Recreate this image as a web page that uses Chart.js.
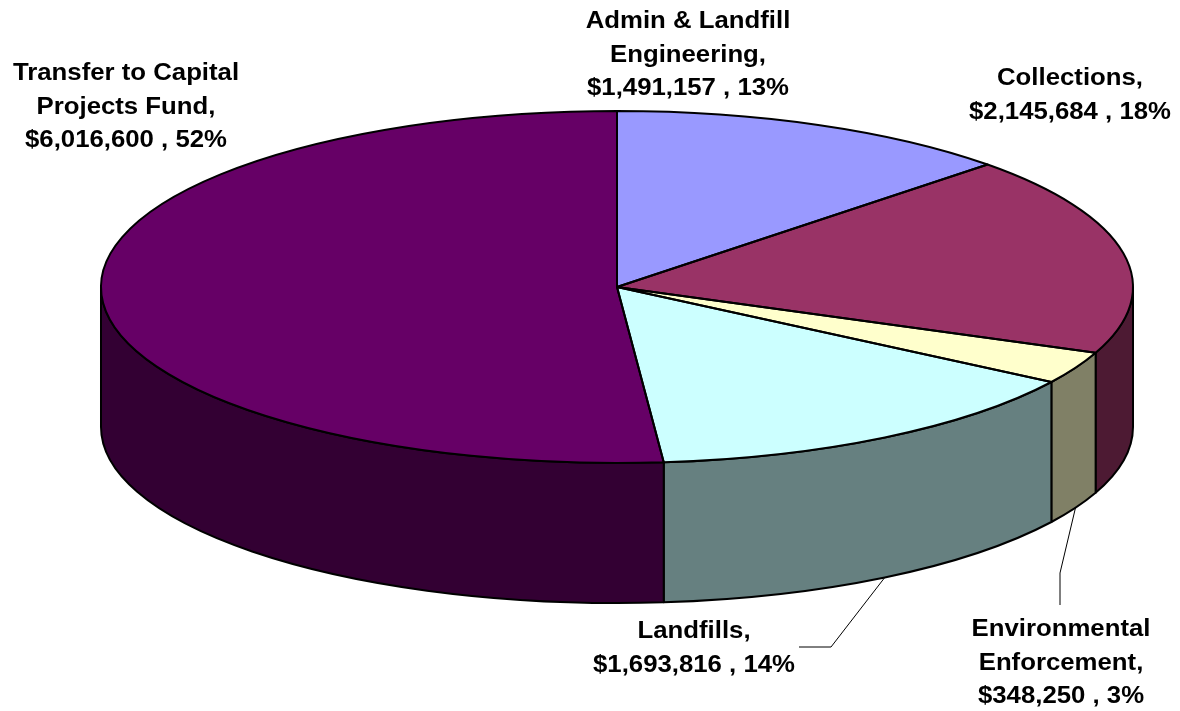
<!DOCTYPE html>
<html>
<head>
<meta charset="utf-8">
<title>Solid Waste Fund Expenditures</title>
<script src="https://cdn.jsdelivr.net/npm/chart.js"></script>
<style>
  body { margin: 0; background: #fff; }
  #wrap { width: 1180px; height: 711px; position: relative; }
</style>
</head>
<body>
<div id="wrap"><canvas id="pieCanvas"></canvas></div>
<script>
// data, clockwise from 12 o'clock
const categories = [
  'Admin & Landfill\nEngineering',
  'Collections',
  'Environmental\nEnforcement',
  'Landfills',
  'Transfer to Capital\nProjects Fund'
];
const amounts = [1491157, 2145684, 348250, 1693816, 6016600];
const percents = [13, 18, 3, 14, 52];

const topColors = ['#9999FF', '#993366', '#FFFFCC', '#CCFFFF', '#660066'];
const sideColors = ['#4D4D80', '#4D1A33', '#808066', '#668080', '#330033'];

// 3d look
const RX = 516, RY = 176, DEPTH = 140;
const FONT = 'bold 23px "Liberation Sans", Arial, sans-serif';
const STRETCH = 1.12, LINE_H = 33.5;

// label anchors (center x, first baseline) and leader line bends
const labelPos = [
  { x: 688, y: 28 },
  { x: 1070, y: 85 },
  { x: 1061, y: 636, leader: [[1060, 573], [1060, 605]] },
  { x: 694, y: 638, leader: [[831, 647], [799, 647]] },
  { x: 126, y: 80 }
];

function labelLines(i) {
  const lines = categories[i].split('\n');
  lines[lines.length - 1] += ',';
  lines.push('$' + amounts[i].toLocaleString('en-US') + ' , ' + percents[i] + '%');
  return lines;
}

const pie3d = {
  id: 'pie3d',
  beforeDatasetsDraw(chart) {
    const ctx = chart.ctx;
    const arcs = chart.getDatasetMeta(0).data;
    const cx = arcs[0].x, cy = arcs[0].y, r = arcs[0].outerRadius;

    // side walls, only the front half is visible
    ctx.save();
    ctx.lineWidth = 2;
    ctx.strokeStyle = '#000';
    ctx.lineJoin = 'round';
    arcs.forEach((a, i) => {
      const s = Math.max(a.startAngle, 0);
      const e = Math.min(a.endAngle, Math.PI);
      if (e <= s) return;
      ctx.beginPath();
      ctx.ellipse(cx, cy, RX, RY, 0, s, e);
      ctx.ellipse(cx, cy + DEPTH, RX, RY, 0, e, s, true);
      ctx.closePath();
      ctx.fillStyle = sideColors[i];
      ctx.fill();
      ctx.stroke();
    });
    ctx.restore();

    // squash the library's round pie into the top ellipse
    ctx.save();
    ctx.translate(cx, cy);
    ctx.scale(RX / r, RY / r);
    ctx.translate(-cx, -cy);
  },
  afterDatasetsDraw(chart) {
    const ctx = chart.ctx;
    ctx.restore();
    const arcs = chart.getDatasetMeta(0).data;
    const cx = arcs[0].x, cy = arcs[0].y;

    ctx.save();
    ctx.lineWidth = 2;
    ctx.strokeStyle = '#000';
    ctx.lineJoin = 'round';
    arcs.forEach(a => {
      ctx.beginPath();
      ctx.moveTo(cx, cy);
      ctx.ellipse(cx, cy, RX, RY, 0, a.startAngle, a.endAngle);
      ctx.closePath();
      ctx.stroke();
    });

    // leader lines start at the middle of the slice's lower edge
    ctx.lineWidth = 1;
    labelPos.forEach((p, i) => {
      if (!p.leader) return;
      const a = arcs[i];
      const mid = (a.startAngle + a.endAngle) / 2;
      ctx.beginPath();
      ctx.moveTo(cx + RX * Math.cos(mid), cy + DEPTH + RY * Math.sin(mid));
      p.leader.forEach(pt => ctx.lineTo(pt[0], pt[1]));
      ctx.stroke();
    });

    // labels
    ctx.fillStyle = '#000';
    ctx.font = FONT;
    ctx.textAlign = 'center';
    ctx.textBaseline = 'alphabetic';
    labelPos.forEach((p, i) => {
      labelLines(i).forEach((line, k) => {
        ctx.save();
        ctx.translate(p.x, p.y + k * LINE_H);
        ctx.scale(STRETCH, 1);
        ctx.fillText(line, 0, 0);
        ctx.restore();
      });
    });
    ctx.restore();
  }
};

new Chart(document.getElementById('pieCanvas'), {
  type: 'pie',
  data: {
    labels: categories,
    datasets: [{
      data: amounts,
      backgroundColor: topColors,
      borderWidth: 0,
      clip: false
    }]
  },
  options: {
    responsive: true,
    maintainAspectRatio: false,
    animation: false,
    events: [],
    layout: { padding: { left: 367, right: 313, top: 37, bottom: 174 } },
    plugins: {
      legend: { display: false },
      tooltip: { enabled: false }
    }
  },
  plugins: [pie3d]
});
</script>
</body>
</html>
